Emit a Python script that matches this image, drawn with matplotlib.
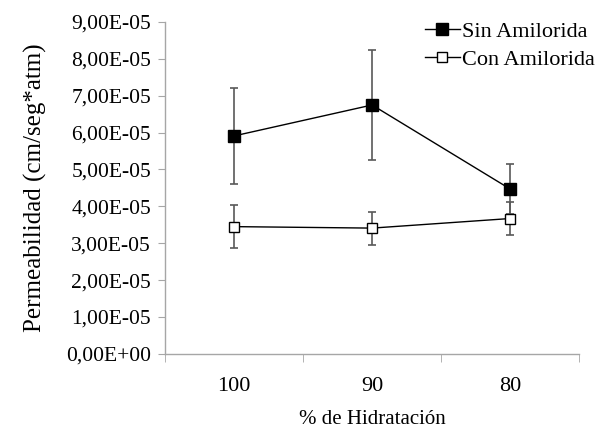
import matplotlib
matplotlib.use('Agg')
import matplotlib.pyplot as plt
from matplotlib.ticker import FuncFormatter, FixedLocator

# hydration levels and permeability (cm/seg*atm)
hidratacion = ['100', '90', '80']
sin_amilorida = [5.91e-5, 6.75e-5, 4.47e-5]
sin_err = [1.30e-5, 1.49e-5, 0.67e-5]
con_amilorida = [3.45e-5, 3.41e-5, 3.67e-5]
con_err = [0.58e-5, 0.45e-5, 0.45e-5]

plt.rcParams['font.family'] = ['Liberation Serif', 'DejaVu Serif']

fig = plt.figure(figsize=(6.11, 4.32), dpi=100)
ax = fig.add_axes([0.270, 0.181, 0.678, 0.768])

x = range(len(hidratacion))
err_color = '#595959'

c1 = ax.errorbar(x, sin_amilorida, yerr=sin_err, fmt='s-', color='black',
                 ecolor=err_color, elinewidth=1.2, capsize=3, capthick=1.2,
                 lw=1, ms=8, mfc='black', mec='black')
c2 = ax.errorbar(x, con_amilorida, yerr=con_err, fmt='s-', color='black',
                 ecolor=err_color, elinewidth=1.2, capsize=3, capthick=1.2,
                 lw=1, ms=7.5, mfc='white', mec='black')

ax.set_xlim(-0.5, 2.5)
ax.set_ylim(0, 9e-5)
ax.set_yticks([i * 1e-5 for i in range(10)])
ax.yaxis.set_major_formatter(FuncFormatter(
    lambda v, p: ('%.2E' % v).replace('.', ',')))

ax.set_xticks(list(x))
ax.set_xticklabels(hidratacion)
ax.xaxis.set_minor_locator(FixedLocator([-0.5, 0.5, 1.5, 2.5]))
ax.tick_params(axis='x', which='major', length=0, pad=17, labelsize=16)
ax.tick_params(axis='x', which='minor', length=6, color='#a6a6a6')
ax.tick_params(axis='y', length=5, color='#a6a6a6', labelsize=15.5, pad=5)

for side in ['top', 'right']:
    ax.spines[side].set_visible(False)
for side in ['left', 'bottom']:
    ax.spines[side].set_color('#a6a6a6')
    ax.spines[side].set_linewidth(1)

ax.set_xlabel('% de Hidratación', fontsize=15, labelpad=10)
ax.set_ylabel('Permeabilidad (cm/seg*atm)', fontsize=18, labelpad=14)

# legend shows only line + marker, no error bars
ax.legend([c1.lines[0], c2.lines[0]], ['Sin Amilorida', 'Con Amilorida'],
          loc='upper right', bbox_to_anchor=(1.06, 1.03), frameon=False,
          fontsize=16, handlelength=1.6, handletextpad=0.1,
          labelspacing=0.35, borderaxespad=0)

fig.savefig('out.png', dpi=100)
